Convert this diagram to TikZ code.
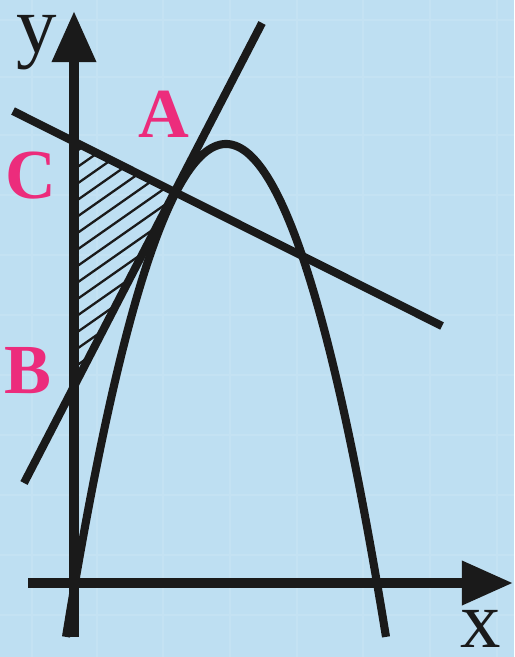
\documentclass[tikz,border=0pt]{standalone}
\usepackage{fontspec}
\setmainfont{Liberation Serif}
\usepackage{xcolor}
\usetikzlibrary{arrows.meta, positioning}

\definecolor{nenxanh}{HTML}{BEDFF2}
\definecolor{luoi}{HTML}{C4E2F3}
\definecolor{hong}{HTML}{EC2C7C}
\definecolor{den}{HTML}{1A1A1A}

\begin{document}
\begin{tikzpicture}[x=0.01cm, y=-0.01cm,
    truc/.style={den, line width=2.8pt, -{Triangle[length=0.51cm, width=0.42cm]}},
    duong/.style={den, line width=2.3pt},
    nhan/.style={hong, font=\fontsize{20}{20}\selectfont\bfseries, anchor=base},
    tentruc/.style={den, font=\fontsize{23}{23}\selectfont, anchor=base, inner sep=1pt}]
    % 1. Nền và lưới mờ
    \fill[nenxanh] (0,0) rectangle (514,657);
    \useasboundingbox (0,0) rectangle (514,657);
    \foreach \t in {32, 97, 163, 230, 297, 363, 430, 497}
        \draw[luoi, line width=0.6pt] (\t,0) -- (\t,657);
    \foreach \t in {20, 77, 135, 195, 255, 315, 375, 435, 495, 555, 615}
        \draw[luoi, line width=0.6pt] (0,\t) -- (514,\t);

    % 2. Các điểm
    \coordinate (O) at (74,583);
    \coordinate (A) at (176,192);
    \coordinate (B) at (74,383);
    \coordinate (C) at (74,142);

    % 3. Tô phần gạch chéo (tam giác ABC)
    \begin{scope}
        \clip (C) -- (A) -- (B) -- cycle;
        \foreach \k in {1,...,15}
            \draw[den, line width=0.65pt] (66, {142+16.5*\k}) -- ++(140,-98);
    \end{scope}

    % 4. Parabol
    \draw[duong, samples=120, domain=66:386]
        plot (\x, {583 - 439*(1 - ((\x-226)/151)*((\x-226)/151))});

    % 5. Hai đường thẳng
    \coordinate (d1a) at (24,483);
    \coordinate (d1b) at (262,23);
    \draw[duong] (d1a) -- (d1b);
    \coordinate (d2a) at (13,111);
    \coordinate (d2b) at (442,326);
    \draw[duong] (d2a) -- (d2b);

    % 6. Hệ trục tọa độ
    \coordinate (xdau) at (28,583);
    \coordinate (xcuoi) at (513,583);
    \coordinate (ydau) at (74,637);
    \coordinate (ycuoi) at (74,11);
    \draw[truc] (xdau) -- (xcuoi);
    \draw[truc] (ydau) -- (ycuoi);
    \node[tentruc] (nhanx) at (481,647) {x};
    \node[tentruc] (nhany) at (37,52) {y};

    % 7. Nhãn các điểm
    \node[nhan] (nhanA) at (164,137) {A};
    \node[nhan] (nhanB) at (28,393) {B};
    \node[nhan] (nhanC) at (31,198) {C};
\end{tikzpicture}
\end{document}
